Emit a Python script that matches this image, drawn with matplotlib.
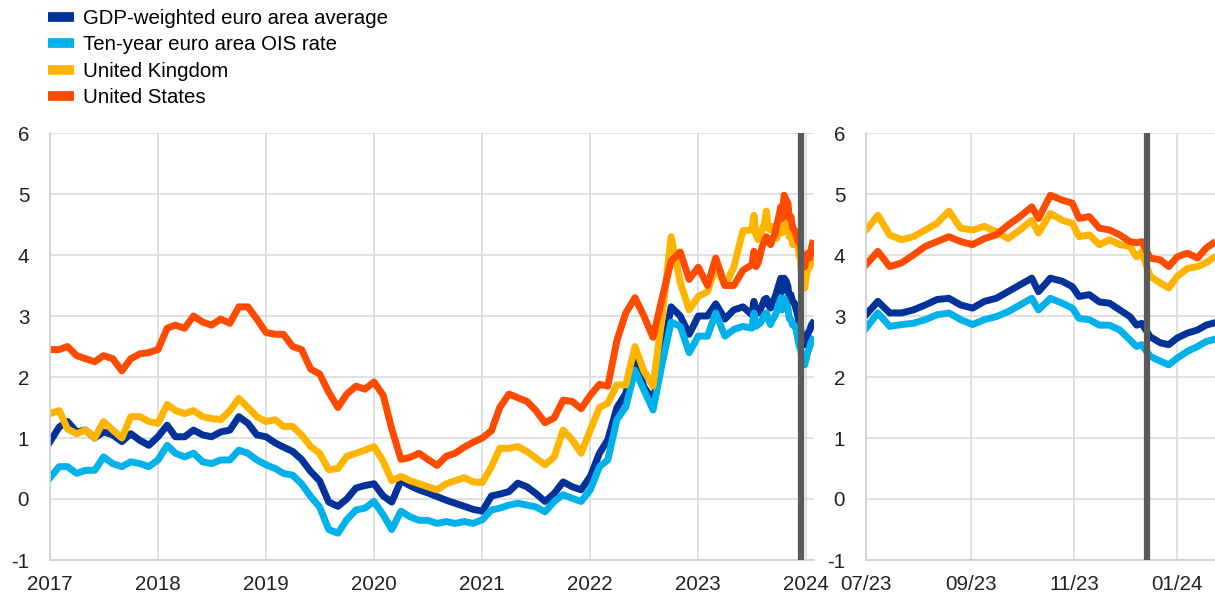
import matplotlib
matplotlib.use('Agg')
import matplotlib.pyplot as plt
import matplotlib.dates as mdates
from matplotlib.lines import Line2D
import pandas as pd

plt.rcParams['font.family'] = ['Liberation Sans', 'DejaVu Sans']
plt.rcParams['axes.unicode_minus'] = False

labels = ['GDP-weighted euro area average', 'Ten-year euro area OIS rate',
          'United Kingdom', 'United States']
colors = ['#003299', '#00b1ea', '#ffb400', '#ff4b00']

# monthly readings, 1st of month, Jan 2017 - Jun 2023
months = pd.date_range('2017-01-01', '2023-06-01', freq='MS')
ea_m = [0.94, 1.18, 1.27, 1.1, 1.13, 1.0, 1.1, 1.05, 0.94, 1.07, 0.96, 0.88,
        1.02, 1.21, 1.02, 1.02, 1.13, 1.05, 1.02, 1.1, 1.13, 1.35, 1.24, 1.05,
        1.02, 0.92, 0.85, 0.78, 0.65, 0.45, 0.3, -0.05, -0.12, 0.0, 0.18, 0.22,
        0.25, 0.05, -0.05, 0.3, 0.22, 0.15, 0.1, 0.04, -0.02, -0.07, -0.12, -0.17,
        -0.2, 0.05, 0.08, 0.12, 0.26, 0.2, 0.09, -0.04, 0.09, 0.28, 0.2, 0.15,
        0.37, 0.75, 0.97, 1.5, 1.73, 2.35, 1.84, 1.62, 2.33, 3.15, 3.0, 2.7,
        3.0, 3.0, 3.2, 2.95, 3.1, 3.15]
ois_m = [0.35, 0.53, 0.53, 0.42, 0.47, 0.47, 0.69, 0.58, 0.53, 0.61, 0.58, 0.53,
         0.64, 0.88, 0.75, 0.69, 0.75, 0.61, 0.58, 0.64, 0.64, 0.8, 0.75, 0.64,
         0.56, 0.5, 0.42, 0.39, 0.25, 0.04, -0.13, -0.5, -0.56, -0.34, -0.18, -0.15,
         -0.04, -0.26, -0.5, -0.2, -0.29, -0.35, -0.35, -0.4, -0.37, -0.4, -0.37, -0.4,
         -0.34, -0.18, -0.15, -0.1, -0.07, -0.1, -0.13, -0.21, -0.04, 0.07, 0.01, -0.04,
         0.15, 0.53, 0.64, 1.3, 1.51, 2.11, 1.79, 1.46, 2.22, 2.9, 2.83, 2.4,
         2.67, 2.67, 3.05, 2.67, 2.78, 2.83]
uk_m = [1.4, 1.45, 1.15, 1.07, 1.13, 1.0, 1.27, 1.13, 1.0, 1.35, 1.35, 1.27,
        1.24, 1.55, 1.45, 1.4, 1.45, 1.35, 1.32, 1.3, 1.45, 1.65, 1.5, 1.35,
        1.27, 1.3, 1.19, 1.19, 1.05, 0.86, 0.75, 0.48, 0.5, 0.7, 0.75, 0.8,
        0.86, 0.62, 0.3, 0.37, 0.3, 0.25, 0.2, 0.15, 0.25, 0.3, 0.35, 0.28,
        0.27, 0.53, 0.83, 0.83, 0.86, 0.78, 0.67, 0.56, 0.69, 1.13, 0.97, 0.75,
        1.13, 1.5, 1.57, 1.87, 1.87, 2.5, 2.1, 1.85, 3.0, 4.3, 3.55, 3.1,
        3.32, 3.4, 3.8, 3.5, 3.8, 4.4]
us_m = [2.45, 2.45, 2.5, 2.35, 2.3, 2.25, 2.35, 2.3, 2.1, 2.3, 2.38, 2.4,
        2.45, 2.8, 2.85, 2.8, 3.0, 2.9, 2.85, 2.95, 2.88, 3.15, 3.15, 2.95,
        2.73, 2.7, 2.7, 2.5, 2.45, 2.13, 2.05, 1.75, 1.5, 1.72, 1.85, 1.8,
        1.92, 1.7, 1.15, 0.65, 0.68, 0.75, 0.65, 0.55, 0.7, 0.75, 0.85, 0.93,
        1.0, 1.12, 1.5, 1.72, 1.66, 1.6, 1.45, 1.25, 1.33, 1.62, 1.6, 1.48,
        1.7, 1.88, 1.85, 2.6, 3.05, 3.3, 3.0, 2.65, 3.3, 3.9, 4.05, 3.6,
        3.8, 3.5, 3.95, 3.5, 3.5, 3.75]

# finer readings, days after 1 Jul 2023
days = [0, 7, 14, 21, 28, 35, 42, 49, 56, 63, 70, 77, 84, 91, 98, 102, 109, 116,
        122, 126, 132, 138, 144, 150, 156, 160, 163, 168, 174, 179, 184, 190, 196,
        201, 205]
ea_d = [3.02, 3.24, 3.05, 3.05, 3.1, 3.18, 3.27, 3.29, 3.18, 3.13, 3.24, 3.29, 3.4,
        3.51, 3.62, 3.4, 3.62, 3.57, 3.48, 3.32, 3.35, 3.23, 3.21, 3.1, 2.99, 2.85,
        2.88, 2.66, 2.56, 2.53, 2.64, 2.72, 2.77, 2.85, 2.88]
ois_d = [2.8, 3.05, 2.83, 2.86, 2.88, 2.94, 3.02, 3.05, 2.94, 2.86, 2.94, 2.99, 3.07,
         3.18, 3.29, 3.1, 3.29, 3.21, 3.13, 2.96, 2.94, 2.85, 2.85, 2.77, 2.61, 2.5,
         2.53, 2.34, 2.26, 2.2, 2.31, 2.42, 2.5, 2.58, 2.61]
uk_d = [4.41, 4.65, 4.33, 4.25, 4.3, 4.41, 4.52, 4.72, 4.44, 4.41, 4.47, 4.38, 4.27,
        4.41, 4.57, 4.36, 4.68, 4.57, 4.52, 4.3, 4.33, 4.17, 4.25, 4.17, 4.14, 3.97,
        4.05, 3.65, 3.54, 3.46, 3.65, 3.78, 3.81, 3.87, 3.95]
us_d = [3.84, 4.06, 3.81, 3.87, 4.0, 4.14, 4.22, 4.3, 4.22, 4.17, 4.27, 4.33, 4.49,
        4.63, 4.79, 4.6, 4.98, 4.9, 4.85, 4.6, 4.63, 4.44, 4.41, 4.33, 4.22, 4.2,
        4.22, 3.95, 3.92, 3.81, 3.97, 4.03, 3.95, 4.11, 4.19]

meeting = pd.Timestamp('2023-12-14')

fine_dates = pd.Timestamp('2023-07-01') + pd.to_timedelta(days, unit='D')
all_dates = list(months) + list(fine_dates)
series_long = [ea_m + ea_d, ois_m + ois_d, uk_m + uk_d, us_m + us_d]
series_short = [ea_d, ois_d, uk_d, us_d]

fig = plt.figure(figsize=(12.15, 5.98), dpi=100)
ax1 = fig.add_axes([50 / 1215, 38 / 598, 764 / 1215, 427 / 598])
ax2 = fig.add_axes([866 / 1215, 38 / 598, 349 / 1215, 427 / 598])

for ax in (ax1, ax2):
    ax.set_ylim(-1, 6)
    ax.set_yticks(range(-1, 7))
    ax.grid(True, color='#dcdcdc', linewidth=1.2)
    ax.set_axisbelow(True)
    for s in ('top', 'right'):
        ax.spines[s].set_visible(False)
    for s in ('left', 'bottom'):
        ax.spines[s].set_color('#d0d0d0')
        ax.spines[s].set_linewidth(1.2)
    ax.tick_params(length=0, labelsize=14.8, colors='#222222')
    ax.tick_params(axis='x', pad=11)
    ax.tick_params(axis='y', pad=15)
    ax.axvline(meeting, color='#595959', linewidth=4.5, zorder=10)

for vals, c in zip(series_long, colors):
    ax1.plot(all_dates, vals, color=c, linewidth=5, solid_joinstyle='round')
for vals, c in zip(series_short, colors):
    ax2.plot(fine_dates, vals, color=c, linewidth=5, solid_joinstyle='round')

ax1.set_xlim(pd.Timestamp('2017-01-01'), pd.Timestamp('2024-01-27'))
ax1.xaxis.set_major_locator(mdates.YearLocator())
ax1.xaxis.set_major_formatter(mdates.DateFormatter('%Y'))

ax2.set_xlim(pd.Timestamp('2023-07-01'), pd.Timestamp('2024-01-23 08:00'))
ax2.xaxis.set_major_locator(mdates.MonthLocator(bymonth=[1, 3, 5, 7, 9, 11]))
ax2.xaxis.set_major_formatter(mdates.DateFormatter('%m/%y'))

handles = [Line2D([], [], color=c, linewidth=7, solid_capstyle='butt') for c in colors]
fig.legend(handles, labels, loc='upper left', bbox_to_anchor=(48 / 1215, 0.985),
           frameon=False, fontsize=14.7, handlelength=1.25, handletextpad=0.45,
           labelspacing=0.36, borderpad=0, borderaxespad=0)

fig.savefig('out.png', dpi=100)
